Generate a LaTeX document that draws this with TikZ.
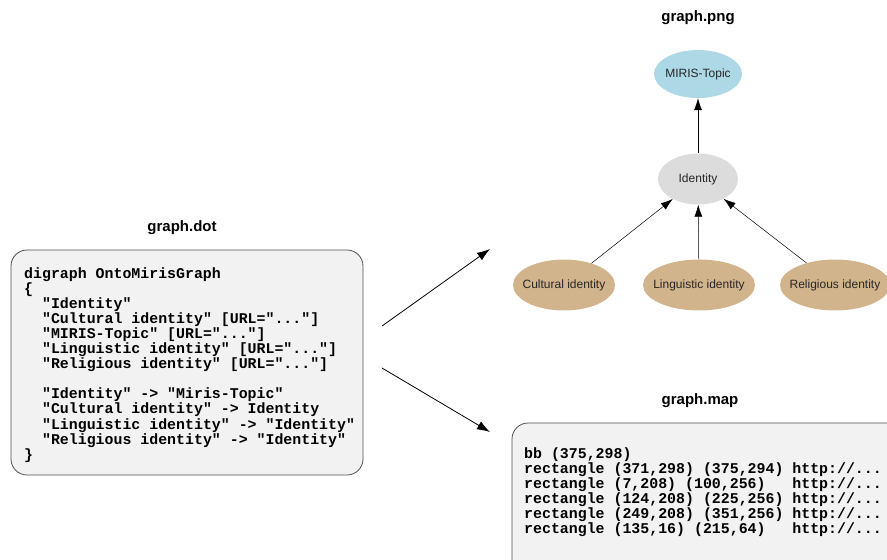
\documentclass[tikz,border=0pt]{standalone}
\usepackage{fontspec}
\setmainfont{Liberation Sans}
\setmonofont{Liberation Mono}
\usetikzlibrary{shapes.geometric,arrows.meta}
\definecolor{mirisblue}{RGB}{173,216,230}
\definecolor{identitygray}{RGB}{220,220,220}
\definecolor{identitytan}{RGB}{210,180,140}
\definecolor{panelgray}{RGB}{242,242,242}
\definecolor{paneledge}{RGB}{80,80,80}
\newcommand{\conceptname}[1]{\makebox[0pt]{#1}}

\begin{document}
\begin{tikzpicture}[x=1pt,y=-1pt]

%
% Styles
%
\tikzstyle{panel} = [draw=paneledge,fill=panelgray,line width=0.8pt,rounded corners=16pt]
\tikzstyle{title} = [font=\fontsize{15}{17}\selectfont\bfseries]
\tikzstyle{code} = [font=\fontsize{14.9}{15.1}\selectfont\ttfamily\bfseries,align=left,inner sep=0pt,anchor=north west]
\tikzstyle{concept} = [ellipse,inner sep=0pt,minimum height=51pt,font=\fontsize{12}{14}\selectfont,text=black!85]
\tikzstyle{link} = [-{Latex[length=12pt,width=8pt]},line width=0.5pt]
\tikzstyle{flow} = [-{Latex[length=13pt,width=9pt]},line width=0.8pt]

\clip (0,0) rectangle (887,560);

% graph.dot
\node[title] (dottitle) at (182,228) {graph.dot};
\draw[panel] (11,250) rectangle (363,475);
\node[code] (dotcode) at (24,267) {digraph OntoMirisGraph\\
\{\\
~~"Identity"\\
~~"Cultural identity" [URL="..."]\\
~~"MIRIS-Topic" [URL="..."]\\
~~"Linguistic identity" [URL="..."]\\
~~"Religious identity" [URL="..."]\\
~\\
~~"Identity" -> "Miris-Topic"\\
~~"Cultural identity" -> Identity\\
~~"Linguistic identity" -> "Identity"\\
~~"Religious identity" -> "Identity"\\
\}};

% graph.png
\node[title] (pngtitle) at (698,18) {graph.png};
\node[concept,fill=mirisblue,minimum width=88pt,minimum height=48pt] (topic) at (698,74) {\conceptname{MIRIS-Topic}};
\node[concept,fill=identitygray,minimum width=80pt] (identity) at (698,179) {\conceptname{Identity}};
\node[concept,fill=identitytan,minimum width=102pt] (cultural) at (564,285) {\conceptname{Cultural identity}};
\node[concept,fill=identitytan,minimum width=112pt] (linguistic) at (699,285) {\conceptname{Linguistic identity}};
\node[concept,fill=identitytan,minimum width=110pt] (religious) at (835,285) {\conceptname{Religious identity}};

\draw[link] (identity) -- (topic);
\draw[link] (cultural) -- (identity);
\draw[link] (linguistic) -- (identity);
\draw[link] (religious) -- (identity);

% graph.map
\node[title] (maptitle) at (700,401) {graph.map};
\draw[panel] (512,423) rectangle (910,590);
\node[code] (mapcode) at (524,447) {bb (375,298)\\
rectangle (371,298) (375,294) http://...\\
rectangle (7,208) (100,256)~~~http://...\\
rectangle (124,208) (225,256) http://...\\
rectangle (249,208) (351,256) http://...\\
rectangle (135,16) (215,64)~~~http://...};

% dot file feeds the picture and the map
\coordinate (dotup) at (382,326);
\coordinate (dotdown) at (382,368);
\coordinate (pngin) at (490,249);
\coordinate (mapin) at (490,432);
\draw[flow] (dotup) -- (pngin);
\draw[flow] (dotdown) -- (mapin);

\end{tikzpicture}
\end{document}
